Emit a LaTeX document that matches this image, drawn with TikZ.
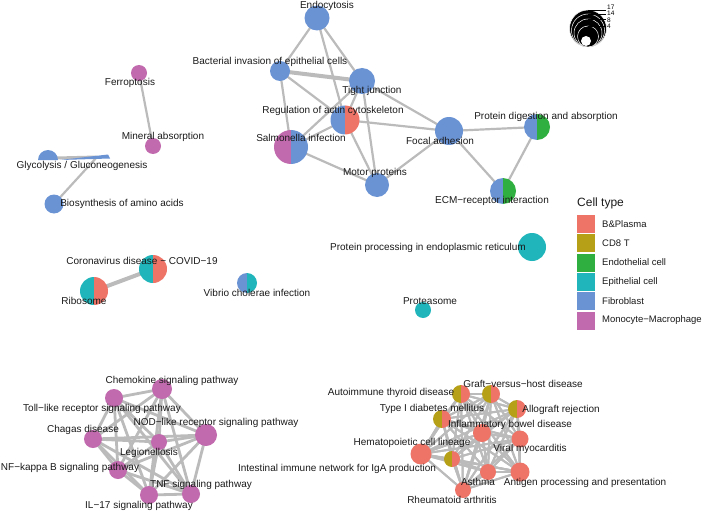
\documentclass[tikz,border=0pt]{standalone}
\usepackage{fontspec}
\setmainfont{Liberation Sans}
\usetikzlibrary{backgrounds}
\definecolor{cB}{HTML}{EE7468}
\definecolor{cC}{HTML}{B5A018}
\definecolor{cE}{HTML}{2FAF3F}
\definecolor{cP}{HTML}{1FB5BA}
\definecolor{cF}{HTML}{6A93D4}
\definecolor{cM}{HTML}{C26AAE}
\definecolor{edgec}{HTML}{BBBBBB}
\definecolor{txt}{HTML}{1A1A1A}
\tikzset{
  lab/.style={font=\fontsize{10}{12}\selectfont, text=txt, inner sep=0pt},
  edgeline/.style={draw=edgec, line width=2.2pt},
  thickedge/.style={draw=edgec, line width=4pt},
  legbox/.style={inner sep=0pt, minimum width=18pt, minimum height=18pt},
  leglab/.style={font=\fontsize{9.5}{11}\selectfont, text=txt, inner sep=0pt, anchor=west},
  sizelab/.style={font=\fontsize{6.5}{6.5}\selectfont, inner sep=0pt, anchor=west}
}
\newcommand\pienode[5]{%
  \node[circle,inner sep=0pt,outer sep=0pt,minimum size=#3*2pt] (#1) at (#2) {};
  \fill[#4] (#1.center) -- (#1.north) arc[start angle=90,end angle=270,radius=#3pt] -- cycle;
  \fill[#5] (#1.center) -- (#1.south) arc[start angle=-90,end angle=90,radius=#3pt] -- cycle;}
\newcommand\dotnode[4]{%
  \node[circle,inner sep=0pt,outer sep=0pt,minimum size=#3*2pt,fill=#4] (#1) at (#2) {};}
\begin{document}
\begin{tikzpicture}[x=1pt,y=-1pt]
\useasboundingbox (0,0) rectangle (708,513);
% ---------------- top cluster
\dotnode{endo}{317,18}{12.5}{cF}
\dotnode{bact}{280,71}{10}{cF}
\dotnode{tight}{362,81}{13}{cF}
\pienode{reg}{345,120}{14.5}{cF}{cB}
\pienode{salm}{291,147}{17}{cM}{cF}
\dotnode{focal}{449,131}{14}{cF}
\dotnode{motor}{377,185}{12}{cF}
\pienode{protdig}{537,127}{13}{cF}{cE}
\pienode{ecm}{503,191}{13}{cF}{cE}
% ---------------- left small groups
\dotnode{ferro}{139,73}{8}{cM}
\dotnode{mineral}{153,146}{8}{cM}
\node[circle,inner sep=0pt,outer sep=0pt,minimum size=20pt] (glyco) at (48,160) {};
\fill[cF] (glyco.east) arc[start angle=0,end angle=180,radius=10pt] -- cycle;
\coordinate (gA) at (57,158);
\coordinate (gB) at (97,157);
\fill[cF] (60,160) -- (108,154.5) -- (110,158.5) -- cycle;
\dotnode{bios}{54,204}{9.5}{cF}
\pienode{covid}{153,269}{14}{cP}{cB}
\pienode{ribo}{94,291}{14}{cP}{cB}
\pienode{vibrio}{247,283}{10}{cF}{cP}
\dotnode{ppe}{532,247}{14}{cP}
\dotnode{protea}{423,310}{8}{cP}
% ---------------- bottom-left cluster
\dotnode{chemo}{162,389}{10}{cM}
\dotnode{toll}{114,398}{9}{cM}
\dotnode{nod}{206,435}{11}{cM}
\dotnode{chagas}{93,439}{9}{cM}
\dotnode{legion}{159,442}{8}{cM}
\dotnode{nfkb}{118,470}{9}{cM}
\dotnode{tnf}{191,494}{9}{cM}
\dotnode{ilxvii}{149,495}{9}{cM}
% ---------------- bottom-right cluster
\pienode{auto}{461,394}{9}{cC}{cB}
\pienode{gvh}{491,394}{9}{cC}{cB}
\pienode{allo}{517,409}{9}{cC}{cB}
\pienode{tid}{442,419}{9}{cC}{cB}
\dotnode{ibd}{482,433}{9}{cB}
\dotnode{viral}{520,439}{8.5}{cB}
\dotnode{hema}{421,454}{10.5}{cB}
\pienode{iga}{452,459}{8}{cC}{cB}
\dotnode{asthma}{488,472}{8}{cB}
\dotnode{antigen}{520,472}{9.5}{cB}
\dotnode{rheum}{463,490}{8}{cB}
% ---------------- edges
\begin{scope}[on background layer]
\foreach \a/\b in {endo/bact,endo/tight,endo/reg,bact/reg,bact/salm,tight/reg,tight/salm,tight/motor,tight/focal,reg/salm,reg/focal,reg/motor,salm/motor,focal/motor,focal/protdig,focal/ecm,protdig/ecm,ferro/mineral}
  \draw[edgeline] (\a.center) -- (\b.center);
\draw[thickedge] (bact.center) -- (tight.center);
\draw[thickedge] (ribo.center) -- (covid.center);
\draw[draw=edgec,line width=3pt] (gA) -- (gB);
\draw[edgeline] (bios.center) -- (gB);
\foreach \a/\b in {chemo/toll,chemo/nod,chemo/chagas,chemo/legion,chemo/nfkb,chemo/tnf,chemo/ilxvii,toll/nod,toll/chagas,toll/legion,toll/nfkb,toll/tnf,toll/ilxvii,nod/chagas,nod/legion,nod/nfkb,nod/tnf,nod/ilxvii,chagas/legion,chagas/nfkb,chagas/tnf,chagas/ilxvii,legion/nfkb,legion/tnf,legion/ilxvii,nfkb/tnf,nfkb/ilxvii,tnf/ilxvii}
  \draw[edgeline,line width=2.8pt] (\a.center) -- (\b.center);
\foreach \a in {auto,gvh,allo,tid,ibd,viral,hema,iga,asthma,antigen,rheum}
  \foreach \b in {auto,gvh,allo,tid,ibd,viral,hema,iga,asthma,antigen,rheum}
    \draw[edgeline,line width=2pt] (\a.center) -- (\b.center);
\end{scope}
% ---------------- labels
\node[lab] (l-endo) at (327,6) {Endocytosis};
\node[lab] (l-bact) at (270,62) {Bacterial invasion of epithelial cells};
\node[lab] (l-tight) at (372,91) {Tight junction};
\node[lab] (l-reg) at (333,111) {Regulation of actin cytoskeleton};
\node[lab] (l-salm) at (301,138) {Salmonella infection};
\node[lab] (l-focal) at (440,141) {Focal adhesion};
\node[lab] (l-motor) at (375,173) {Motor proteins};
\node[lab] (l-protdig) at (546,117) {Protein digestion and absorption};
\node[lab] (l-ecm) at (492,201) {ECM−receptor interaction};
\node[lab] (l-ferro) at (130,83) {Ferroptosis};
\node[lab] (l-mineral) at (163,137) {Mineral absorption};
\node[lab] (l-glyco) at (82,166) {Glycolysis / Gluconeogenesis};
\node[lab] (l-bios) at (122,204) {Biosynthesis of amino acids};
\node[lab] (l-covid) at (142,261) {Coronavirus disease − COVID−19};
\node[lab] (l-ribo) at (84,301) {Ribosome};
\node[lab] (l-vibrio) at (257,293) {Vibrio cholerae infection};
\node[lab] (l-ppe) at (428,248) {Protein processing in endoplasmic reticulum};
\node[lab] (l-protea) at (430,301) {Proteasome};
\node[lab] (l-chemo) at (172,381) {Chemokine signaling pathway};
\node[lab] (l-toll) at (102,409) {Toll−like receptor signaling pathway};
\node[lab] (l-nod) at (216,423) {NOD−like receptor signaling pathway};
\node[lab] (l-chagas) at (83,430) {Chagas disease};
\node[lab] (l-legion) at (149,453) {Legionellosis};
\node[lab] (l-nfkb) at (70,468) {NF−kappa B signaling pathway};
\node[lab] (l-tnf) at (201,485) {TNF signaling pathway};
\node[lab] (l-il) at (139,506) {IL−17 signaling pathway};
\node[lab] (l-auto) at (391,393) {Autoimmune thyroid disease};
\node[lab] (l-gvh) at (523,384) {Graft−versus−host disease};
\node[lab] (l-allo) at (561,410) {Allograft rejection};
\node[lab] (l-tid) at (432,409) {Type I diabetes mellitus};
\node[lab] (l-ibd) at (510,425) {Inflammatory bowel disease};
\node[lab] (l-viral) at (530,449) {Viral myocarditis};
\node[lab] (l-hema) at (412,443) {Hematopoietic cell lineage};
\node[lab] (l-iga) at (337,469) {Intestinal immune network for IgA production};
\node[lab] (l-asthma) at (478,482) {Asthma};
\node[lab] (l-antigen) at (585,483) {Antigen processing and presentation};
\node[lab] (l-rheum) at (452,500) {Rheumatoid arthritis};
% ---------------- colour legend
\node[font=\fontsize{12}{14}\selectfont, text=txt, inner sep=0pt, anchor=west] (legtitle) at (577,203) {Cell type};
\node[legbox,fill=cB] (k1) at (586,224) {};
\node[legbox,fill=cC] (k2) at (586,243.3) {};
\node[legbox,fill=cE] (k3) at (586,262.6) {};
\node[legbox,fill=cP] (k4) at (586,281.9) {};
\node[legbox,fill=cF] (k5) at (586,301.2) {};
\node[legbox,fill=cM] (k6) at (586,320.5) {};
\node[leglab] (t1) at (602,224) {B\&Plasma};
\node[leglab] (t2) at (602,243.3) {CD8 T};
\node[leglab] (t3) at (602,262.6) {Endothelial cell};
\node[leglab] (t4) at (602,281.9) {Epithelial cell};
\node[leglab] (t5) at (602,301.2) {Fibroblast};
\node[leglab] (t6) at (602,320.5) {Monocyte−Macrophage};
% ---------------- size legend
\foreach \r in {18.5,16.5,14,10.5}
  \filldraw[fill=black,draw=white,line width=0.5pt] (588,47-\r) circle[radius=\r pt];
\fill[white] (586,41) circle[radius=5pt];
\foreach \yy in {10,14,19,26}
  \draw[black,line width=0.8pt] (588,\yy) -- (606,\yy);
\node[sizelab] (s17) at (607,7) {17};
\node[sizelab] (s14) at (607,13.5) {14};
\node[sizelab] (s8) at (607,20) {8};
\node[sizelab] (s4) at (607,26.5) {4};
\end{tikzpicture}
\end{document}
